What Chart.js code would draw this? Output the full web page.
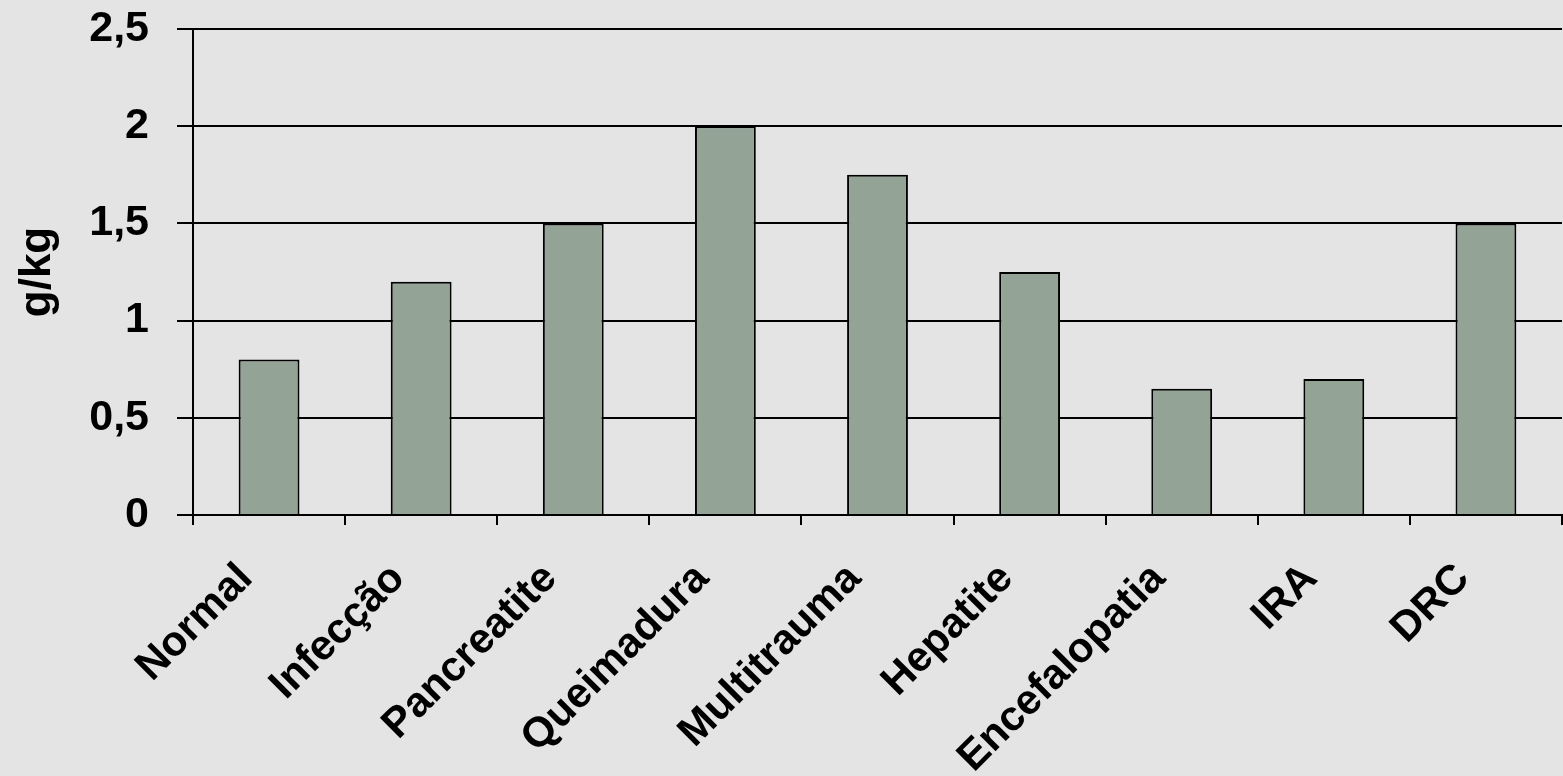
<!DOCTYPE html>
<html>
<head>
<meta charset="utf-8">
<script src="https://cdn.jsdelivr.net/npm/chart.js@4"></script>
<style>
  html, body { margin: 0; padding: 0; background: #e4e4e4; }
  #wrap { width: 1563px; height: 776px; }
</style>
</head>
<body>
<div id="wrap"><canvas id="canvas" width="1563" height="776"></canvas></div>
<script>
// dados
var categorias = ['Normal', 'Infecção', 'Pancreatite', 'Queimadura', 'Multitrauma', 'Hepatite', 'Encefalopatia', 'IRA', 'DRC'];
var valores = [0.8, 1.2, 1.5, 2.0, 1.75, 1.25, 0.65, 0.7, 1.5];
var yMin = 0, yMax = 2.5, yStep = 0.5;
var yTitulo = 'g/kg';

var fundo = {
    id: 'fundo',
    beforeDraw: function (chart) {
        var c = chart.ctx;
        c.save();
        c.fillStyle = '#e4e4e4';
        c.fillRect(0, 0, chart.width, chart.height);
        c.restore();
    }
};

var familia = '"Liberation Sans", Arial, sans-serif';
var fonteY = { family: familia, size: 43, weight: 'bold' };
var fonteX = { family: familia, size: 42, weight: 'bold' };
var fonteTitulo = { family: familia, size: 44, weight: 'bold' };

var ctx = document.getElementById('canvas').getContext('2d');
var config = {
    type: 'bar',
    data: {
        labels: categorias,
        datasets: [{
            data: valores,
            backgroundColor: '#93a396',
            borderColor: '#000000',
            borderWidth: 2,
            barPercentage: 0.4,
            categoryPercentage: 1
        }]
    },
    options: {
        responsive: false,
        animation: false,
        layout: { padding: { top: 29, right: 1, left: 0, bottom: 0 } },
        plugins: { legend: { display: false }, tooltip: { enabled: false } },
        scales: {
            x: {
                grid: { drawOnChartArea: false, color: '#000', lineWidth: 2, tickLength: 10, offset: true },
                border: { color: '#000', width: 2 },
                ticks: {
                    color: '#000', font: fonteX, minRotation: 45, maxRotation: 45,
                    padding: 29, labelOffset: -23, autoSkip: false
                },
                afterFit: function (s) {
                    s.height = 261;
                    s.paddingLeft = 0; s.paddingRight = 0;
                }
            },
            y: {
                min: yMin, max: yMax,
                grid: { color: '#000', lineWidth: 2, tickLength: 16 },
                border: { color: '#000', width: 2 },
                ticks: {
                    stepSize: yStep, color: '#000', font: fonteY, padding: 28,
                    callback: function (v) { return String(v).replace('.', ','); }
                },
                title: { display: true, text: yTitulo, color: '#000', font: fonteTitulo, padding: { top: 11, bottom: 0 } },
                afterFit: function (s) {
                    s.width = 193;
                    s.paddingTop = 0; s.paddingBottom = 0;
                }
            }
        }
    },
    plugins: [fundo]
};

var chart = new Chart(ctx, config);
</script>
</body>
</html>
